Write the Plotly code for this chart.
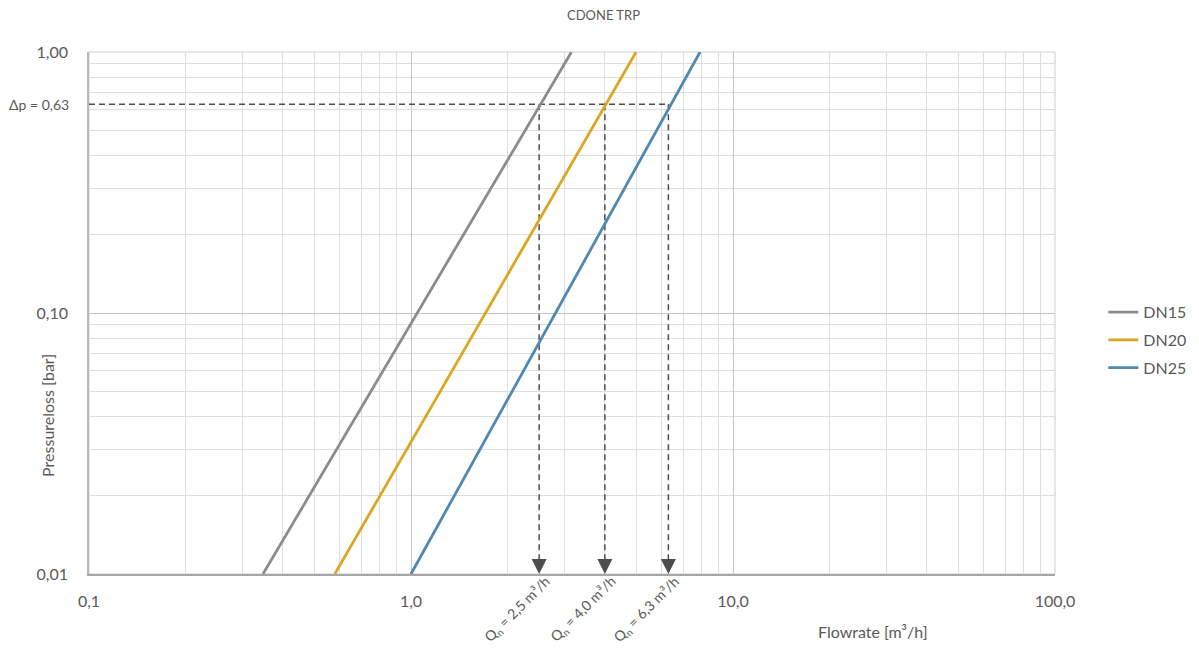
import math
import plotly.graph_objects as go

# ---- data ----
series_names = ["DN15", "DN20", "DN25"]
series_colors = ["#8c8c8c", "#d9a722", "#4f88b3"]
dp_values = [0.01, 1.0]                      # pressure loss [bar]
flow_dn15 = [0.347, 3.15]                    # flowrate [m3/h]
flow_dn20 = [0.58, 5.0]
flow_dn25 = [1.0, 7.9]
q_nominal = [2.5, 4.0, 6.3]
q_labels = ["2,5", "4,0", "6,3"]
dp_nominal = 0.63
x_range = [0.1, 100.0]
y_range = [0.01, 1.0]

grey_text = "#595959"
font_family = "Lato, 'Open Sans', sans-serif"

# page has an 8px body margin: figure is sized/offset to compensate
FIG_W, FIG_H = 1191, 642

fig = go.Figure()

# helper dashed lines
fig.add_trace(go.Scatter(
    x=[x_range[0], max(q_nominal)], y=[dp_nominal, dp_nominal],
    mode="lines", line=dict(color="#4d4d4d", width=1.5, dash="6px,4px"),
    showlegend=False, hoverinfo="skip"))
for q in q_nominal:
    fig.add_trace(go.Scatter(
        x=[q, q], y=[dp_nominal, y_range[0]],
        mode="lines", line=dict(color="#4d4d4d", width=1.5, dash="6px,4px"),
        showlegend=False, hoverinfo="skip"))

flows = [flow_dn15, flow_dn20, flow_dn25]
for name, color, fl in zip(series_names, series_colors, flows):
    fig.add_trace(go.Scatter(
        x=fl, y=dp_values, mode="lines", name=name, legendgroup=name,
        line=dict(color=color, width=2.8)))

annotations = []
# arrowheads
for q in q_nominal:
    annotations.append(dict(
        x=math.log10(q), y=math.log10(y_range[0]), xref="x", yref="y",
        ax=0, ay=-15, showarrow=True, arrowhead=2, arrowsize=1.5,
        arrowwidth=2, arrowcolor="#4d4d4d", text=""))
# rotated Qn labels
for q, lab in zip(q_nominal, q_labels):
    annotations.append(dict(
        x=math.log10(q), y=0, xref="x", yref="paper",
        text=f"Q<sub>n</sub> = {lab} m³/h", showarrow=False,
        textangle=-45, xanchor="right", yanchor="top", xshift=18, yshift=4,
        font=dict(size=14, color=grey_text, family=font_family)))
# delta p label
annotations.append(dict(
    x=0, y=math.log10(dp_nominal), xref="paper", yref="y",
    text=f"Δp = {str(dp_nominal).replace('.', ',')}", showarrow=False,
    xanchor="right", yanchor="middle", xshift=-18,
    font=dict(size=14, color=grey_text, family=font_family)))
# axis titles
annotations.append(dict(
    x=0.8116, y=-0.111, xref="paper", yref="paper",
    text="Flowrate [m³/h]", showarrow=False, xanchor="center", yanchor="middle",
    font=dict(size=16, color=grey_text, family=font_family)))
annotations.append(dict(
    x=-0.0424, y=0.303, xref="paper", yref="paper",
    text="Pressureloss [bar]", showarrow=False, textangle=-90,
    xanchor="center", yanchor="middle",
    font=dict(size=16, color=grey_text, family=font_family)))

fig.update_layout(
    width=FIG_W, height=FIG_H,
    margin=dict(l=81, r=144, t=44, b=76, autoexpand=False),
    paper_bgcolor="white", plot_bgcolor="white",
    separators=",.",
    font=dict(family=font_family, color=grey_text, size=14),
    title=dict(text="CDONE TRP", x=0.5, xanchor="center", y=1 - 7 / FIG_H,
               yanchor="middle", yref="container",
               font=dict(size=13, color=grey_text, family=font_family)),
    showlegend=True,
    legend=dict(x=1.05, y=0.448, xanchor="left", yanchor="middle",
                font=dict(size=16, color=grey_text), tracegroupgap=4,
                traceorder="grouped", bgcolor="rgba(0,0,0,0)"),
    annotations=annotations,
    shapes=[dict(type="rect", xref="paper", yref="paper", x0=0, x1=1, y0=0, y1=1,
                 line=dict(color="#cfcfcf", width=1), layer="below")],
)

fig.update_xaxes(
    type="log", range=[math.log10(x_range[0]), math.log10(x_range[1])],
    dtick=1, tickformat=".1f", showgrid=True, gridcolor="#c4c4c4", gridwidth=1,
    minor=dict(dtick="D1", showgrid=True, gridcolor="#dedede", gridwidth=1),
    showline=True, linecolor="#a6a6a6", linewidth=2, zeroline=False,
    ticks="", ticklabelstandoff=12, automargin=False,
    tickfont=dict(size=16, color=grey_text))
fig.update_yaxes(
    type="log", range=[math.log10(y_range[0]), math.log10(y_range[1])],
    dtick=1, tickformat=".2f", showgrid=True, gridcolor="#c4c4c4", gridwidth=1,
    minor=dict(dtick="D1", showgrid=True, gridcolor="#dedede", gridwidth=1),
    showline=True, linecolor="#b8b8b8", linewidth=1.5, zeroline=False,
    ticks="", ticklabelstandoff=16, automargin=False,
    tickfont=dict(size=16, color=grey_text))

fig.write_html("out.html")
